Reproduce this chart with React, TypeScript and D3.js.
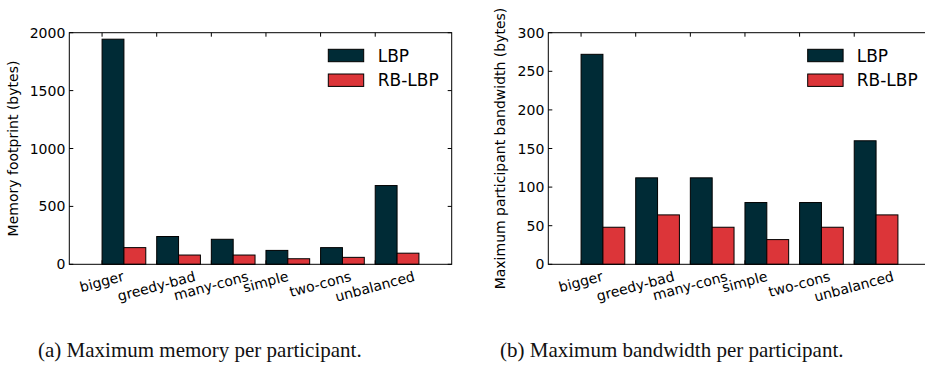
import React, { useEffect, useRef } from 'react';
import * as d3 from 'd3';

const categories = ['bigger', 'greedy-bad', 'many-cons', 'simple', 'two-cons', 'unbalanced'];
const seriesNames = ['LBP', 'RB-LBP'];
const memoryLBP = [1944, 240, 216, 120, 144, 680];
const memoryRB = [144, 80, 80, 48, 60, 96];
const bandwidthLBP = [272, 112, 112, 80, 80, 160];
const bandwidthRB = [48, 64, 48, 32, 48, 64];
const memoryTicks = [0, 500, 1000, 1500, 2000];
const bandwidthTicks = [0, 50, 100, 150, 200, 250, 300];
const captions = ['(a) Maximum memory per participant.', '(b) Maximum bandwidth per participant.'];
const yLabels = ['Memory footprint (bytes)', 'Maximum participant bandwidth (bytes)'];

const COLORS = ['#002b36', '#dc3539'];
const SANS = 'DejaVu Sans, sans-serif';

interface PanelCfg {
  x0: number; x1: number; yTop: number; yBot: number;
  yMax: number; ticks: number[]; series: number[][]; ylabel: string; ylabelX: number;
  legendX: number; legendTextX: number;
  caption: string; captionX: number;
}

function drawPanel(svg: d3.Selection<SVGSVGElement, unknown, null, undefined>, c: PanelCfg) {
  const g = svg.append('g');
  const x = d3.scaleLinear().domain([-0.6, 6.4]).range([c.x0, c.x1]);
  const y = d3.scaleLinear().domain([0, c.yMax]).range([c.yBot, c.yTop]);
  const bw = 0.4;

  c.series.forEach((vals, s) => {
    g.selectAll(null).data(vals).enter().append('rect')
      .attr('x', (_d, i) => x(i + s * bw))
      .attr('width', x(bw) - x(0))
      .attr('y', d => y(d))
      .attr('height', d => y(0) - y(d))
      .attr('fill', COLORS[s])
      .attr('stroke', '#000')
      .attr('stroke-width', 1);
  });

  g.append('rect').attr('x', c.x0).attr('y', c.yTop).attr('width', c.x1 - c.x0).attr('height', c.yBot - c.yTop)
    .attr('fill', 'none').attr('stroke', '#000').attr('stroke-width', 1);

  const tl = 4;
  categories.forEach((_cat, i) => {
    const xx = x(i);
    g.append('line').attr('x1', xx).attr('x2', xx).attr('y1', c.yBot).attr('y2', c.yBot - tl).attr('stroke', '#000');
    g.append('line').attr('x1', xx).attr('x2', xx).attr('y1', c.yTop).attr('y2', c.yTop + tl).attr('stroke', '#000');
  });
  c.ticks.forEach(t => {
    const yy = y(t);
    g.append('line').attr('x1', c.x0).attr('x2', c.x0 + tl).attr('y1', yy).attr('y2', yy).attr('stroke', '#000');
    g.append('line').attr('x1', c.x1).attr('x2', c.x1 - tl).attr('y1', yy).attr('y2', yy).attr('stroke', '#000');
    g.append('text').attr('x', c.x0 - 4).attr('y', yy).attr('dy', '0.36em')
      .attr('text-anchor', 'end').attr('font-family', SANS).attr('font-size', 14).text(String(t));
  });

  const fs = 14;
  const ang = 15 * Math.PI / 180;
  const a = 0.76 * fs, dsc = 0.24 * fs;
  categories.forEach((cat, i) => {
    const t = g.append('text').attr('font-family', SANS).attr('font-size', fs)
      .attr('text-anchor', 'middle').text(cat);
    const w = (t.node() as SVGTextElement).getComputedTextLength();
    const h = a + dsc;
    const H = w * Math.sin(ang) + h * Math.cos(ang);
    const cy = c.yBot + 6 + H / 2;
    t.attr('y', (a - dsc) / 2)
      .attr('transform', `translate(${x(i)},${cy}) rotate(-15)`);
  });

  g.append('text').attr('transform', `translate(${c.ylabelX},${(c.yTop + c.yBot) / 2}) rotate(-90)`)
    .attr('text-anchor', 'middle').attr('font-family', SANS).attr('font-size', 14).text(c.ylabel);

  seriesNames.forEach((name, s) => {
    const py = 49.3 + s * 24.7;
    g.append('rect').attr('x', c.legendX).attr('y', py).attr('width', 35.4).attr('height', 12.4)
      .attr('fill', COLORS[s]).attr('stroke', '#000').attr('stroke-width', 1);
    g.append('text').attr('x', c.legendTextX).attr('y', py + 6.2).attr('dy', '0.36em')
      .attr('font-family', SANS).attr('font-size', 17).text(name);
  });

  svg.append('text').attr('x', c.captionX).attr('y', 357)
    .attr('font-family', 'Liberation Serif, serif').attr('font-size', 21).attr('fill', '#111').text(c.caption);
}

export default function App() {
  const ref = useRef<SVGSVGElement>(null);
  useEffect(() => {
    document.body.style.margin = '0';
    const svg = d3.select(ref.current!);
    svg.selectAll('*').remove();
    drawPanel(svg, {
      x0: 69.3, x1: 451.7, yTop: 32.7, yBot: 264.3, yMax: 2000, ticks: memoryTicks,
      series: [memoryLBP, memoryRB], ylabel: yLabels[0], ylabelX: 18,
      legendX: 328.3, legendTextX: 377.7, caption: captions[0], captionX: 38,
    });
    drawPanel(svg, {
      x0: 548.3, x1: 930.7, yTop: 32.7, yBot: 264.3, yMax: 300, ticks: bandwidthTicks,
      series: [bandwidthLBP, bandwidthRB], ylabel: yLabels[1], ylabelX: 505,
      legendX: 807.7, legendTextX: 856.7, caption: captions[1], captionX: 500,
    });
  }, []);
  return <svg ref={ref} width={925} height={372} style={{ display: 'block', background: '#fff' }} />;
}
